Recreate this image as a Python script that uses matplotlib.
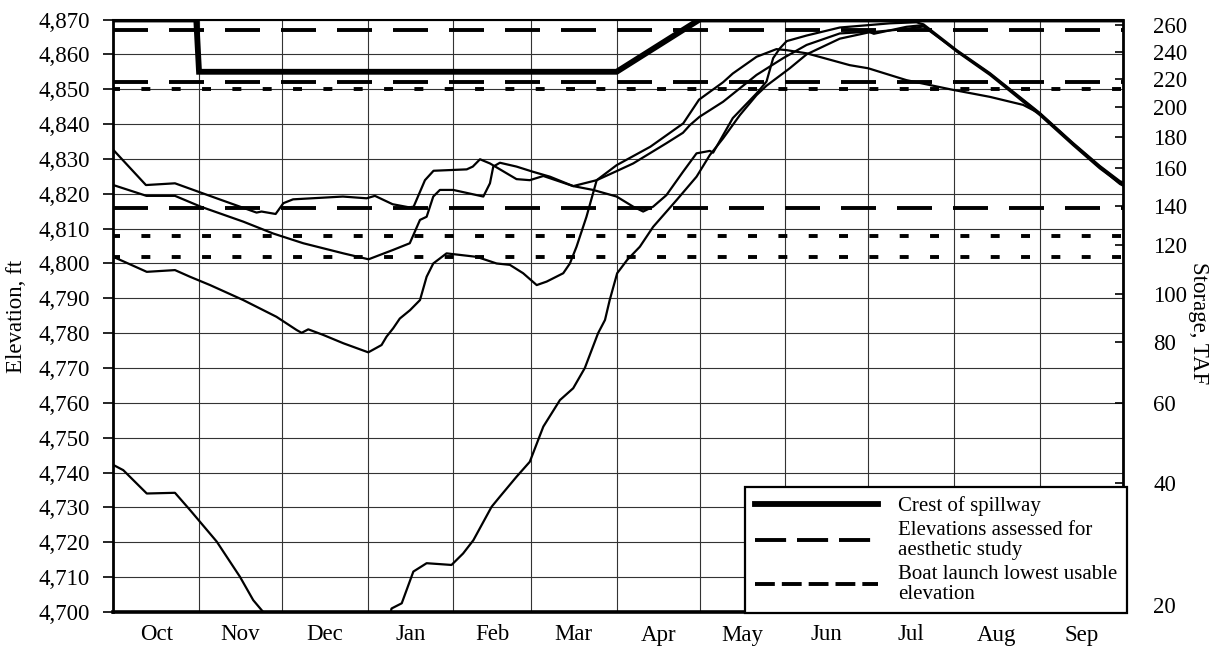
import matplotlib
matplotlib.use("Agg")
import matplotlib.pyplot as plt
from matplotlib.lines import Line2D
from matplotlib.ticker import FixedLocator, FuncFormatter, NullFormatter

plt.rcParams['font.family'] = ['Liberation Serif', 'DejaVu Serif']

# water year months, day offsets from Oct 1
month_names = ['Oct', 'Nov', 'Dec', 'Jan', 'Feb', 'Mar', 'Apr', 'May', 'Jun', 'Jul', 'Aug', 'Sep']
month_start = [0, 31, 61, 92, 123, 151, 182, 212, 243, 273, 304, 335, 365]

# spillway crest elevation through the year
crest_day = [0, 30, 31, 182, 212, 365]
crest_elev = [4870, 4870, 4855, 4855, 4870, 4870]

aesthetic_elev = [4867, 4852, 4816]
boat_launch_elev = [4850, 4808, 4802]

# elevation-capacity table for the storage axis
storage_taf = [20, 40, 60, 80, 100, 120, 140, 160, 180, 200, 220, 240, 260]
storage_elev = [4702.0, 4737.0, 4760.0, 4777.6, 4791.2, 4805.3, 4816.6,
                4827.4, 4836.4, 4844.9, 4853.0, 4860.8, 4868.3]

# reservoir elevation traces (day of water year, ft)
trace1_day = [0, 11.8, 22.3, 37, 51.8, 53.6, 58.7, 61.5, 65, 83, 91.6, 94.6, 101, 107,
              108.6, 112.7, 115.8, 127.8, 130, 132.6, 136.2, 145.8, 150.6, 155.5, 166.3,
              173.5, 182, 188, 191.6, 195.2, 200, 206, 210.9, 215.7, 216.9, 224, 232.6,
              236.2, 238.6, 241, 243.5, 250.7, 262.7, 280.8, 290.4, 293, 305, 317, 329,
              335, 347, 356.7, 364, 365]
trace1_elev = [4832.6, 4822.5, 4823.0, 4818.8, 4814.6, 4814.9, 4814.2, 4817.3, 4818.4,
               4819.2, 4818.7, 4819.4, 4817.0, 4816.1, 4816.3, 4823.9, 4826.6, 4827.0,
               4827.8, 4829.9, 4828.7, 4824.2, 4823.9, 4825.1, 4822.2, 4821.1, 4819.2,
               4816.3, 4814.9, 4816.3, 4819.6, 4826.3, 4831.6, 4832.3, 4831.8, 4841.7,
               4848.8, 4852.2, 4858.9, 4861.7, 4863.8, 4865.4, 4867.7, 4868.9, 4869.2,
               4868.6, 4861.2, 4854.6, 4847.0, 4843.2, 4834.6, 4828.0, 4823.6, 4823.3]

trace2_day = [0, 12, 22.3, 31.6, 47, 57.8, 68.7, 83.2, 92.3, 101.2, 107.2, 110.9, 113.3,
              115.7, 118.1, 122.9, 133.8, 136.2, 137.4, 139.8, 145.8, 151.8, 157.9, 166.3,
              174.8, 182, 188, 194, 200, 206, 208.5, 212, 220.5, 232.6, 242.2, 250.7,
              262.7, 273.2, 275, 286.8, 292.8, 305, 317, 329, 335, 347, 356.7, 364, 365]
trace2_elev = [4822.5, 4819.4, 4819.4, 4816.3, 4812.0, 4808.6, 4805.8, 4802.9, 4801.2,
               4803.9, 4805.8, 4812.5, 4813.4, 4819.2, 4821.1, 4821.1, 4819.2, 4823.0,
               4827.8, 4828.9, 4827.8, 4826.3, 4824.9, 4822.2, 4823.9, 4826.5, 4828.7,
               4831.6, 4834.5, 4837.5, 4839.7, 4842.1, 4846.4, 4854.1, 4858.9, 4862.7,
               4866.0, 4866.5, 4865.9, 4867.9, 4868.4, 4860.8, 4854.1, 4846.4, 4842.6,
               4834.0, 4827.3, 4823.0, 4822.7]

trace3_day = [0, 12.1, 22.3, 27.7, 35, 47, 59, 66.3, 68.1, 70.5, 75.9, 83.2, 92.2, 97,
              98.8, 101.2, 103.6, 107.3, 110.9, 113.3, 115.7, 120.5, 131.4, 138.6, 143.4,
              148.2, 153.1, 156.7, 162.7, 165.1, 167.5, 171.1, 174.8, 182, 194.2, 206.1,
              211.8, 220.5, 224, 232.6, 239.8, 243.5, 250.7, 266.3, 273, 286.8, 303.7,
              317, 329, 335, 347, 356.7, 364, 365]
trace3_elev = [4801.9, 4797.6, 4798.1, 4796.2, 4793.8, 4789.5, 4784.7, 4780.9, 4780.1,
               4781.1, 4779.5, 4777.1, 4774.5, 4776.6, 4779.0, 4781.4, 4784.2, 4786.6,
               4789.5, 4796.2, 4800.0, 4802.9, 4801.9, 4800.0, 4799.6, 4797.2, 4793.8,
               4794.8, 4797.2, 4800.0, 4804.8, 4813.4, 4823.9, 4828.2, 4833.5, 4840.2,
               4847.0, 4852.0, 4854.5, 4859.3, 4861.5, 4861.2, 4860.3, 4856.9, 4856.0,
               4852.6, 4849.8, 4847.8, 4845.5, 4843.0, 4834.3, 4827.6, 4822.8, 4822.4]

trace4_day = [0, 3.6, 12.1, 22.3, 27.7, 37.4, 45.8, 50.6, 54.2, 56, 99, 100.6, 104.3,
              108.5, 113.3, 122.3, 126.5, 130.2, 136.8, 139.8, 145.8, 150.6, 155.5, 161.5,
              166.3, 170.5, 175.3, 177.8, 179.5, 182.2, 185.8, 190.4, 195.2, 203.7, 210.9,
              215.7, 220.5, 226.6, 232.6, 236.2, 244.6, 250.7, 262.7, 273.2, 286.8, 293,
              305, 317, 329, 335, 347, 356.7, 364, 365]
trace4_elev = [4742.2, 4740.7, 4734.0, 4734.2, 4729.3, 4720.2, 4710.1, 4703.4, 4700.0,
               4695.0, 4695.0, 4701.0, 4702.5, 4711.6, 4714.0, 4713.5, 4716.8, 4720.6,
               4730.2, 4733.1, 4738.8, 4743.1, 4753.2, 4760.8, 4764.2, 4770.0, 4780.0,
               4783.8, 4789.5, 4797.2, 4801.0, 4804.8, 4810.5, 4818.2, 4824.9, 4831.1,
               4835.9, 4842.6, 4848.3, 4851.0, 4856.0, 4860.0, 4864.5, 4866.3, 4867.3,
               4868.0, 4861.0, 4854.4, 4846.8, 4843.0, 4834.4, 4827.8, 4823.3, 4823.0]

traces = [(trace1_day, trace1_elev), (trace2_day, trace2_elev),
          (trace3_day, trace3_elev), (trace4_day, trace4_elev)]

W, H = 1214, 654
fig = plt.figure(figsize=(W / 100, H / 100), dpi=100)
ax = fig.add_axes([113.3 / W, 1 - 612 / H, (1122.7 - 113.3) / W, (612 - 19.5) / H])

ax.set_xlim(0, 365)
ax.set_ylim(4700, 4870)

ax.xaxis.set_major_locator(FixedLocator(month_start))
ax.xaxis.set_major_formatter(NullFormatter())
mid = [(a + b) / 2 for a, b in zip(month_start[:-1], month_start[1:])]
ax.xaxis.set_minor_locator(FixedLocator(mid))
ax.set_xticks(mid, month_names, minor=True)
ax.tick_params(axis='x', which='both', length=0)
ax.tick_params(axis='x', which='minor', labelsize=16.5, pad=9)

ax.yaxis.set_major_locator(FixedLocator(range(4700, 4871, 10)))
ax.yaxis.set_major_formatter(FuncFormatter(lambda v, p: f"{v:,.0f}"))
ax.tick_params(axis='y', direction='out', length=7, width=1.2, labelsize=16.5, pad=10)

ax.grid(True, which='major', color='#333333', lw=0.8)
ax.set_axisbelow(True)

for e in aesthetic_elev:
    ax.axhline(e, color='black', lw=2.8, ls=(0, (9.0, 5.4)), zorder=3)
for e in boat_launch_elev:
    ax.axhline(e, color='black', lw=2.8, ls=(0.5, (2.3, 5.5)), zorder=3)

for d, el in traces:
    ax.plot(d, el, color='black', lw=1.6, zorder=4)

ax.plot(crest_day, crest_elev, color='black', lw=4.2, zorder=5, solid_joinstyle='miter')

ax.spines['left'].set_linewidth(2.0)
ax.spines['bottom'].set_linewidth(2.6)
ax.spines['top'].set_linewidth(1.5)
ax.spines['right'].set_visible(False)

# storage axis on the right, ticks placed at the matching elevations
ax2 = ax.twinx()
ax2.set_ylim(ax.get_ylim())
ax2.set_yticks(storage_elev, [str(s) for s in storage_taf])
ax2.tick_params(axis='y', direction='in', length=6, width=1.2, labelsize=16.5, pad=22)
for side in ['left', 'top', 'bottom']:
    ax2.spines[side].set_visible(False)
ax2.spines['right'].set_linewidth(2.0)

fig.text(17 / W, 1 - 316 / H, 'Elevation, ft', rotation=90, ha='center', va='center',
         fontsize=16.5)
fig.text(1199 / W, 1 - 323 / H, 'Storage, TAF', rotation=270, ha='center', va='center',
         fontsize=16.5)

handles = [
    Line2D([], [], color='black', lw=4.2),
    Line2D([], [], color='black', lw=2.8, ls=(0, (8.0, 2.8))),
    Line2D([], [], color='black', lw=2.8, ls=(0, (5.1, 1.8))),
]
labels = ['Crest of spillway', 'Elevations assessed for\naesthetic study',
          'Boat launch lowest usable\nelevation']
leg = ax2.legend(handles, labels, loc='lower right',
                 bbox_to_anchor=(1127 / W, 1 - 613 / H), bbox_transform=fig.transFigure,
                 borderaxespad=0, fontsize=15, handlelength=5.9, handletextpad=1.0,
                 borderpad=0.45, labelspacing=0.25, fancybox=False, framealpha=1,
                 edgecolor='black')
leg.get_frame().set_linewidth(1.6)
for t in leg.get_texts():
    t.set_linespacing(1.05)

fig.savefig('out.png', dpi=100)
